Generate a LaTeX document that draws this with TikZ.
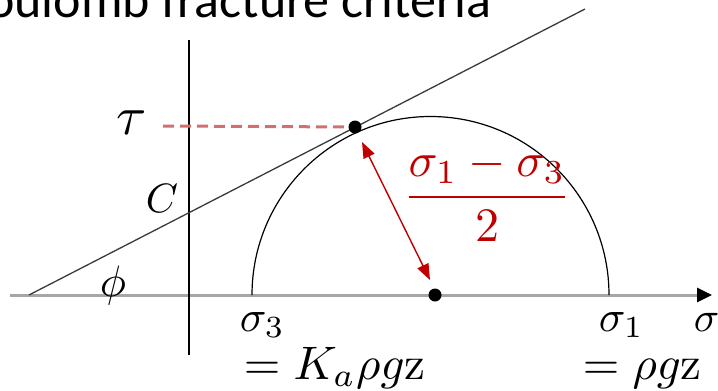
\documentclass[tikz,border=0pt]{standalone}
\usepackage{fontspec}
\newfontfamily\titlefont{Carlito}
\usetikzlibrary{arrows.meta}
\definecolor{axisgray}{HTML}{A6A6A6}
\definecolor{darkred}{HTML}{C00000}
\definecolor{dashred}{HTML}{D27070}
\definecolor{linegray}{HTML}{3A3A3A}
\begin{document}
\begin{tikzpicture}[x=1pt,y=-1pt,
  axisline/.style={draw=axisgray, line width=3pt, -{Triangle[length=15pt,width=14pt,color=black,fill=black]}},
  vaxis/.style={draw=black, line width=1.5pt},
  tline/.style={draw=linegray, line width=1.3pt},
  circline/.style={draw=black, line width=1.2pt},
  dashline/.style={draw=dashred, line width=3pt, dash pattern=on 11pt off 6pt},
  redarrow/.style={draw=darkred, line width=1.4pt, {Triangle[length=16pt,width=12pt]}-{Triangle[length=16pt,width=12pt]}},
  dot/.style={circle, fill=black, inner sep=0pt, minimum size=13pt},
  lbl/.style={inner sep=0pt, text=black}]
\useasboundingbox (0,0) rectangle (718,391);
\clip (0,0) rectangle (718,391);

% title
\node[lbl, anchor=base west, font=\titlefont\fontsize{52}{60}\selectfont] (title) at (-13,17) {oulomb fracture criteria};

% coordinates
\coordinate (Ax0) at (10,295);
\coordinate (Ax1) at (712,295);
\coordinate (V0) at (189,40);
\coordinate (V1) at (189,355);
\coordinate (O) at (29,295);
\coordinate (Lend) at (585,9);
\coordinate (S3) at (252,295);
\coordinate (Dl) at (163,126);
\coordinate (R1) at (362,142);
\coordinate (R2) at (430,280);

% axes
\draw[axisline] (Ax0) -- (Ax1);
\draw[vaxis] (V0) -- (V1);

% Mohr circle (upper half)
\draw[circline] (S3) arc[start angle=180, end angle=360, radius=178.5];

% failure envelope
\draw[tline] (O) -- (Lend);

% dots
\node[dot] (T) at (355,127) {};
\node[dot] (M) at (435,295) {};

% dashed tau line
\draw[dashline] (Dl) -- (T);

% radius arrow
\draw[redarrow] (R1) -- (R2);

% labels
\node[lbl, scale=5.5] (tau) at (132,123) {$\tau$};
\node[lbl, scale=4.1] (C) at (162,198) {$C$};
\node[lbl, scale=4.4] (phi) at (113,285) {$\phi$};
\node[lbl, anchor=base west, scale=4.4] (s3) at (239,331) {$\sigma_3$};
\node[lbl, anchor=base west, scale=4.7] (e3) at (243,379) {$= K_a\rho g\mathrm{z}$};
\node[lbl, anchor=base west, scale=4.4] (s1) at (598,331) {$\sigma_1$};
\node[lbl, anchor=base west, scale=4.7] (e1) at (582,379) {$= \rho g\mathrm{z}$};
\node[lbl, anchor=base west, scale=4.2] (sig) at (693,331) {$\sigma$};
\node[lbl, anchor=base, text=darkred, scale=4.8] (frac) at (487,209) {$\displaystyle\frac{\sigma_1-\sigma_3}{2}$};
\end{tikzpicture}
\end{document}
